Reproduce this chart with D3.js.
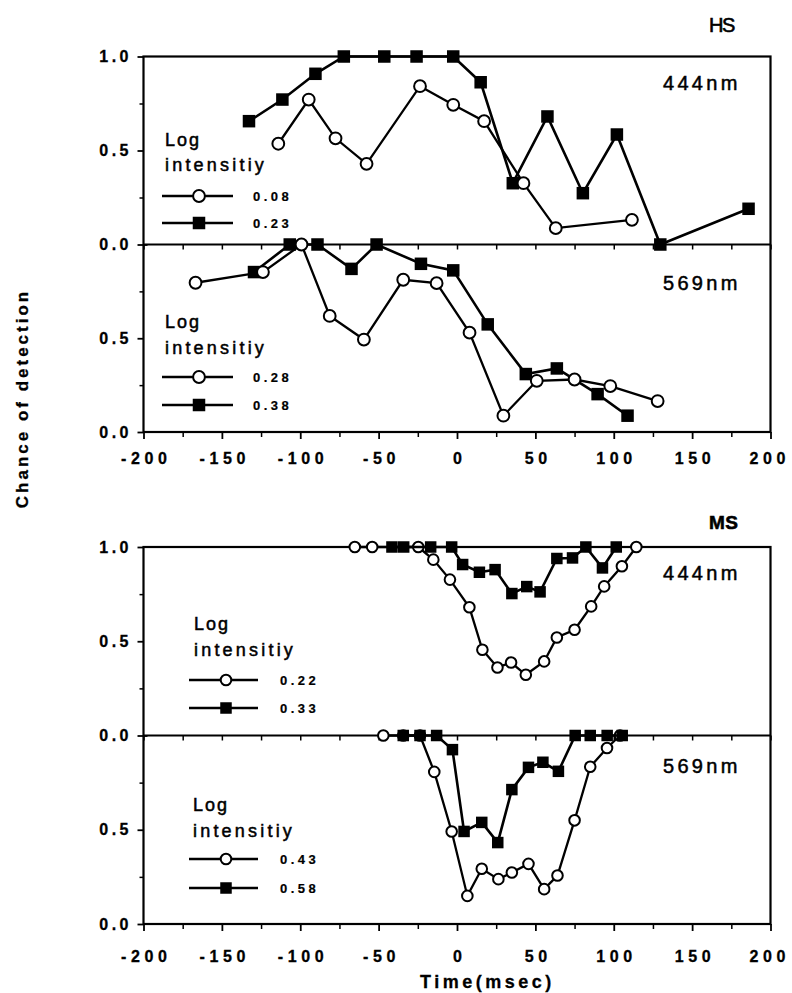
<!DOCTYPE html>
<html><head><meta charset="utf-8">
<script src="https://cdn.jsdelivr.net/npm/d3@7/dist/d3.min.js"></script>
<style>body{margin:0;background:#fff}svg{display:block}text{font-family:"Liberation Sans",Arial,sans-serif;fill:#000}</style>
</head><body><svg id="c" width="792" height="993"></svg>
<script>
// ---- data ----
const xTicks = [-200,-150,-100,-50,0,50,100,150,200];
const xMinor = [-175,-125,-75,-25,25,75,125,175];
const yTicks = [0,0.5,1];
const yMinor = [0.25,0.75];
const subjects = ["HS","MS"];
const panelLabels = ["444nm","569nm","444nm","569nm"];
const legendTitle = ["Log","intensitiy"];
const legendValues = [["0.08","0.23"],["0.28","0.38"],["0.22","0.33"],["0.43","0.58"]];
const xLabel = "Time(msec)";
const yLabel = "Chance of detection";

const hs444Open = [[-114,0.536],[-94.6,0.771],[-77.5,0.565],[-57.7,0.429],[-23.6,0.842],[-2.4,0.743],[17.3,0.656],[42.4,0.326],[63,0.087],[111.6,0.131]];
const hs444Filled = [[-132.7,0.656],[-111.4,0.771],[-90.3,0.908],[-72.2,1.0],[-46.4,1.0],[-25.8,1.0],[-2.4,1.0],[15.1,0.863],[35.6,0.326],[57.7,0.681],[80.3,0.273],[102,0.585],[129.7,0.0],[186,0.19]];
const hs569Open = [[-166.8,0.796],[-123.8,0.853],[-99.2,1.0],[-81.2,0.619],[-59.4,0.493],[-34.3,0.812],[-13,0.794],[8,0.53],[29.6,0.087],[50.9,0.273],[75,0.28],[97.8,0.245],[128,0.165]];
const hs569Filled = [[-129.5,0.853],[-106.7,1.0],[-89,1.0],[-67.3,0.87],[-51.3,1.0],[-23,0.897],[-2.4,0.862],[19.6,0.574],[43.9,0.309],[63.7,0.339],[89.7,0.202],[108.8,0.087]];
const ms444Open = [[-65.2,1],[-54.1,1],[-24.7,1],[-15.1,0.933],[-4.5,0.827],[7.9,0.68],[16.2,0.455],[25.8,0.361],[34.5,0.387],[43.9,0.322],[55.6,0.393],[63.7,0.52],[75,0.561],[85.6,0.685],[93.9,0.791],[105.2,0.898],[114.4,1]];
const ms444Filled = [[-41.5,1],[-34,1],[-16.8,1],[-3.4,1],[3.6,0.907],[14.3,0.866],[24.3,0.88],[35,0.753],[44.5,0.79],[53,0.762],[63.7,0.939],[73.7,0.942],[82.2,1],[92.8,0.889],[101.6,1]];
const ms569Open = [[-47,1],[-34.3,1],[-23.6,1],[-14.5,0.807],[-3.4,0.491],[6.6,0.149],[15.8,0.293],[26.4,0.238],[35,0.273],[45.6,0.319],[55.6,0.185],[64.1,0.257],[75,0.55],[85,0.834],[95.7,0.934],[104,1]];
const ms569Filled = [[-34.3,1],[-23.6,1],[-13,1],[-2.9,0.925],[4.5,0.491],[15.8,0.539],[26,0.432],[35,0.713],[45.6,0.831],[54.8,0.858],[64.7,0.81],[75.4,1],[85,1],[95.8,1],[105.4,1]];

const panelSeries = [
  {open:hs444Open, filled:hs444Filled, squaresOnTop:false},
  {open:hs569Open, filled:hs569Filled, squaresOnTop:false},
  {open:ms444Open, filled:ms444Filled, squaresOnTop:true},
  {open:ms569Open, filled:ms569Filled, squaresOnTop:true}
];

// ---- layout ----
const X0 = 143.5, X1 = 770.5;
const figs = [
  {top:56.5, mid:244.5, bot:432, tickLabelY:458, subjX:709, subjY:32, subjBold:false, sq:12.5, cr:5.9},
  {top:547, mid:735.5, bot:924, tickLabelY:956, subjX:709, subjY:529, subjBold:true, sq:11.5, cr:5.3}
];
const panelLayout = [
  {logX:165, logY:146, intY:171, l1:196, l2:223, lx0:162, lx1:233, mx:199, tx:253, labY:90},
  {logX:165, logY:328, intY:354, l1:377, l2:405, lx0:162, lx1:233, mx:199, tx:253, labY:290},
  {logX:194, logY:630, intY:656, l1:680, l2:708, lx0:189, lx1:258, mx:226, tx:280, labY:580},
  {logX:193, logY:811, intY:837, l1:859, l2:888, lx0:189, lx1:258, mx:226, tx:280, labY:773}
];
const FONT = '"Liberation Sans",Arial,sans-serif';

const svg = d3.select("#c");
const x = d3.scaleLinear().domain([-200,200]).range([X0,X1]);

function styleTicks(g, sw){
  g.select(".domain").remove();
  g.selectAll(".tick line").attr("stroke","#000").attr("stroke-width",sw);
}
function heavy(t, w){ return t.attr("stroke","#000").attr("stroke-width",w); }

figs.forEach((f, fi) => {
  const g = svg.append("g");
  const SQ = f.sq, CR = f.cr;
  const yPanels = [
    d3.scaleLinear().domain([0,1]).range([f.mid, f.top]),
    d3.scaleLinear().domain([0,1]).range([f.bot, f.mid])
  ];
  // y axes
  yPanels.forEach((y, pi) => {
    const ax = d3.axisLeft(y).tickValues(pi===0 ? yTicks : [0,0.5]).tickFormat(d3.format(".1f")).tickSize(6).tickPadding(9);
    const ga = g.append("g").attr("transform",`translate(${X0},0)`).call(ax);
    styleTicks(ga, 1.8);
    heavy(ga.selectAll(".tick text").attr("font-size",16).attr("font-weight","bold")
      .attr("letter-spacing","3.5px").attr("dx","3.5").attr("font-family",FONT), 0.3);
    const am = d3.axisLeft(y).tickValues(yMinor).tickFormat("").tickSize(4);
    styleTicks(g.append("g").attr("transform",`translate(${X0},0)`).call(am), 1.5);
  });
  // zero crossing tick at mid line
  const mz = d3.axisRight(yPanels[0]).tickValues([0]).tickFormat("").tickSize(4);
  styleTicks(g.append("g").attr("transform",`translate(${X0},0)`).call(mz), 1.8);
  // x axis bottom
  const xa = d3.axisBottom(x).tickValues(xTicks).tickFormat(d=>String(d)).tickSize(7).tickPadding(0);
  const gx = g.append("g").attr("transform",`translate(0,${f.bot})`).call(xa);
  styleTicks(gx, 1.8);
  heavy(gx.selectAll(".tick text").attr("y", f.tickLabelY - f.bot).attr("dy","0.35em")
    .attr("font-size",16).attr("font-weight","bold").attr("letter-spacing","4.6px")
    .attr("text-anchor", d => d===200 ? "end" : "middle")
    .attr("dx", d => d===200 ? "19" : "2.3")
    .attr("font-family",FONT), 0.3);
  styleTicks(g.append("g").attr("transform",`translate(0,${f.bot})`).call(d3.axisBottom(x).tickValues(xMinor).tickFormat("").tickSize(5)), 1.5);
  // mid line ticks
  styleTicks(g.append("g").attr("transform",`translate(0,${f.mid})`).call(d3.axisBottom(x).tickValues(xTicks.concat(xMinor)).tickFormat("").tickSize(5)), 1.5);
  // frame
  g.append("rect").attr("x",X0).attr("y",f.top).attr("width",X1-X0).attr("height",f.bot-f.top)
    .attr("fill","none").attr("stroke","#000").attr("stroke-width",2.2);
  g.append("line").attr("x1",X0).attr("x2",X1).attr("y1",f.mid).attr("y2",f.mid)
    .attr("stroke","#000").attr("stroke-width",2.2);
  // subject label
  heavy(g.append("text").attr("x",f.subjX).attr("y",f.subjY).attr("font-size",f.subjBold?19:20)
    .attr("font-weight",f.subjBold?"bold":"normal").attr("letter-spacing",f.subjBold?"0.5px":"-1.5px").text(subjects[fi]), 0.6);

  // panels
  yPanels.forEach((y, pi) => {
    const idx = fi*2 + pi;
    const s = panelSeries[idx], L = panelLayout[idx];
    const line = d3.line().x(d=>x(d[0])).y(d=>y(d[1]));
    const drawOpen = () => {
      g.append("path").datum(s.open).attr("d",line).attr("fill","none").attr("stroke","#000").attr("stroke-width",2.3);
      g.selectAll(null).data(s.open).join("circle").attr("cx",d=>x(d[0])).attr("cy",d=>y(d[1])).attr("r",CR)
        .attr("fill","#fff").attr("stroke","#000").attr("stroke-width",2);
    };
    const drawFilled = () => {
      g.append("path").datum(s.filled).attr("d",line).attr("fill","none").attr("stroke","#000").attr("stroke-width",2.6);
      g.selectAll(null).data(s.filled).join("rect").attr("x",d=>x(d[0])-SQ/2).attr("y",d=>y(d[1])-SQ/2)
        .attr("width",SQ).attr("height",SQ).attr("fill","#000");
    };
    if (s.squaresOnTop) { drawOpen(); drawFilled(); } else { drawFilled(); drawOpen(); }

    // panel label
    heavy(g.append("text").attr("x",663).attr("y",L.labY).attr("font-size",20).attr("letter-spacing","3.3px").text(panelLabels[idx]), 0.5);
    // legend
    heavy(g.append("text").attr("x",L.logX).attr("y",L.logY).attr("font-size",18).attr("letter-spacing","2px").text(legendTitle[0]), 0.5);
    heavy(g.append("text").attr("x",L.logX).attr("y",L.intY).attr("font-size",18).attr("letter-spacing","3.2px").text(legendTitle[1]), 0.5);
    [L.l1, L.l2].forEach((ly, k) => {
      g.append("line").attr("x1",L.lx0).attr("x2",L.lx1).attr("y1",ly).attr("y2",ly).attr("stroke","#000").attr("stroke-width",k===0?2.3:2.6);
      if (k===0) g.append("circle").attr("cx",L.mx).attr("cy",ly).attr("r",CR).attr("fill","#fff").attr("stroke","#000").attr("stroke-width",2);
      else g.append("rect").attr("x",L.mx-SQ/2).attr("y",ly-SQ/2).attr("width",SQ).attr("height",SQ).attr("fill","#000");
      heavy(g.append("text").attr("x",L.tx).attr("y",ly+5).attr("font-size",13).attr("font-weight","bold").attr("letter-spacing","3.5px").text(legendValues[idx][k]), 0.2);
    });
  });
});

// axis titles
heavy(svg.append("text").attr("x",420).attr("y",988).attr("font-size",18).attr("font-weight","bold").attr("letter-spacing","3.5px").text(xLabel), 0.3);
heavy(svg.append("text").attr("transform","translate(28,400) rotate(-90)").attr("text-anchor","middle").attr("dx","1.5")
  .attr("font-size",17).attr("font-weight","bold").attr("letter-spacing","3px").text(yLabel), 0.3);
</script></body></html>
